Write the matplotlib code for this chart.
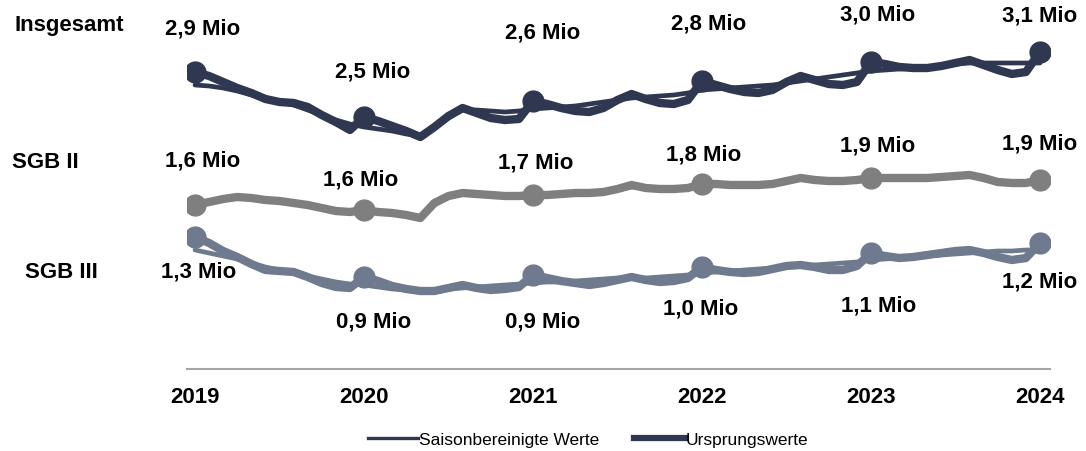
import matplotlib
matplotlib.use("Agg")
import matplotlib.pyplot as plt
from matplotlib.lines import Line2D
import numpy as np

plt.rcParams['font.family'] = ['Liberation Sans', 'DejaVu Sans']

# monthly values Jan 2019 .. Jan 2024, in Mio
months = np.arange(61)
years = [2019, 2020, 2021, 2022, 2023, 2024]

gesamt_orig = [2.92, 2.88, 2.82, 2.76, 2.71, 2.65, 2.62, 2.61, 2.57, 2.49, 2.42, 2.34, 2.47,
               2.43, 2.38, 2.33, 2.27, 2.37, 2.48, 2.56, 2.51, 2.46, 2.44, 2.45, 2.63,
               2.60, 2.56, 2.53, 2.52, 2.56, 2.64, 2.70, 2.65, 2.61, 2.60, 2.64, 2.83,
               2.79, 2.75, 2.72, 2.71, 2.74, 2.82, 2.88, 2.84, 2.80, 2.79, 2.82, 3.02,
               3.00, 2.97, 2.96, 2.96, 2.98, 3.01, 3.04, 2.99, 2.94, 2.90, 2.92, 3.12]
gesamt_sa = [2.79, 2.78, 2.76, 2.73, 2.69, 2.65, 2.62, 2.59, 2.54, 2.49, 2.44, 2.40, 2.37,
             2.35, 2.33, 2.30, 2.28, 2.36, 2.46, 2.54, 2.54, 2.53, 2.52, 2.53, 2.55,
             2.56, 2.57, 2.58, 2.60, 2.62, 2.64, 2.66, 2.67, 2.68, 2.69, 2.71, 2.74,
             2.75, 2.76, 2.77, 2.78, 2.79, 2.81, 2.83, 2.85, 2.87, 2.89, 2.91, 2.93,
             2.94, 2.95, 2.96, 2.97, 2.98, 3.00, 3.01, 3.01, 3.01, 3.01, 3.01, 3.01]

sgb2_orig = [1.59, 1.62, 1.65, 1.67, 1.66, 1.64, 1.63, 1.61, 1.59, 1.56, 1.53, 1.52, 1.54,
             1.52, 1.51, 1.49, 1.46, 1.61, 1.68, 1.71, 1.70, 1.69, 1.68, 1.68, 1.69,
             1.69, 1.70, 1.71, 1.71, 1.72, 1.75, 1.79, 1.76, 1.75, 1.75, 1.76, 1.80,
             1.80, 1.79, 1.79, 1.79, 1.80, 1.83, 1.86, 1.84, 1.83, 1.83, 1.84, 1.86,
             1.86, 1.86, 1.86, 1.86, 1.87, 1.88, 1.89, 1.86, 1.82, 1.81, 1.81, 1.84]
sgb2_sa = [1.60, 1.62, 1.64, 1.66, 1.66, 1.64, 1.63, 1.61, 1.59, 1.57, 1.54, 1.53, 1.53,
           1.52, 1.51, 1.49, 1.47, 1.60, 1.67, 1.70, 1.70, 1.69, 1.69, 1.68, 1.69,
           1.69, 1.70, 1.71, 1.71, 1.72, 1.74, 1.77, 1.76, 1.76, 1.76, 1.77, 1.79,
           1.80, 1.80, 1.80, 1.80, 1.81, 1.83, 1.85, 1.84, 1.84, 1.84, 1.84, 1.85,
           1.86, 1.86, 1.86, 1.86, 1.87, 1.88, 1.88, 1.86, 1.83, 1.82, 1.82, 1.83]

sgb3_orig = [1.27, 1.21, 1.13, 1.07, 1.00, 0.94, 0.93, 0.92, 0.87, 0.81, 0.77, 0.76, 0.87,
             0.83, 0.78, 0.75, 0.73, 0.73, 0.76, 0.79, 0.76, 0.74, 0.75, 0.77, 0.89,
             0.86, 0.83, 0.81, 0.79, 0.81, 0.84, 0.87, 0.84, 0.82, 0.83, 0.86, 0.97,
             0.94, 0.92, 0.91, 0.92, 0.95, 0.98, 0.99, 0.97, 0.94, 0.94, 0.98, 1.11,
             1.08, 1.06, 1.07, 1.09, 1.11, 1.13, 1.14, 1.11, 1.07, 1.04, 1.06, 1.21]
sgb3_sa = [1.14, 1.11, 1.08, 1.05, 1.01, 0.97, 0.94, 0.91, 0.88, 0.85, 0.82, 0.80, 0.79,
           0.77, 0.75, 0.74, 0.73, 0.74, 0.75, 0.76, 0.77, 0.78, 0.79, 0.80, 0.81,
           0.82, 0.82, 0.83, 0.84, 0.85, 0.86, 0.86, 0.86, 0.87, 0.88, 0.89, 0.91,
           0.92, 0.93, 0.94, 0.95, 0.96, 0.97, 0.98, 0.99, 1.00, 1.01, 1.02, 1.04,
           1.05, 1.06, 1.07, 1.08, 1.09, 1.10, 1.11, 1.12, 1.13, 1.13, 1.14, 1.14]

gesamt_labels = ['2,9 Mio', '2,5 Mio', '2,6 Mio', '2,8 Mio', '3,0 Mio', '3,1 Mio']
sgb2_labels = ['1,6 Mio', '1,6 Mio', '1,7 Mio', '1,8 Mio', '1,9 Mio', '1,9 Mio']
sgb3_labels = ['1,3 Mio', '0,9 Mio', '0,9 Mio', '1,0 Mio', '1,1 Mio', '1,2 Mio']

# label offsets from the marker, in pixels (x right, y up)
gesamt_off = [(8, 43), (9, 45), (10, 68), (7, 57), (7, 47), (0, 36)]
sgb2_off = [(8, 44), (-3, 30), (3, 32), (2, 29), (7, 32), (0, 36)]
sgb3_off = [(4, -35), (10, -45), (10, -47), (-1, -42), (8, -53), (0, -39)]

c_gesamt = '#2f3850'
c_sgb2 = '#7f7f7f'
c_sgb3 = '#707a8f'

W, H = 1086, 451
fig = plt.figure(figsize=(W / 100, H / 100), dpi=100)
ax = fig.add_axes([187 / W, 1 - 369 / H, (1050 - 187) / W, (369 - 10) / H])

x = 2019 + months / 12.0
yearly = months[::12]

groups = [
    (gesamt_orig, gesamt_sa, c_gesamt, gesamt_labels, gesamt_off),
    (sgb2_orig, sgb2_sa, c_sgb2, sgb2_labels, sgb2_off),
    (sgb3_orig, sgb3_sa, c_sgb3, sgb3_labels, sgb3_off),
]
for orig, sa, col, labs, offs in groups:
    orig = np.array(orig)
    ax.plot(x, sa, color=col, lw=3.4, solid_capstyle='round', solid_joinstyle='round', zorder=2)
    ax.plot(x, orig, color=col, lw=6, solid_capstyle='round', solid_joinstyle='round', zorder=3)
    ax.plot(x[yearly], orig[yearly], 'o', color=col, ms=15, zorder=4)
    for i, (lab, (dx, dy)) in enumerate(zip(labs, offs)):
        ax.annotate(lab, (x[yearly][i], orig[yearly][i]), xytext=(dx * 0.72, dy * 0.72),
                    textcoords='offset points', ha='center', va='center',
                    fontsize=16, fontweight='bold', color='black', zorder=5)

ax.set_xlim(2019 - 8 / 169, 2024 + 10 / 169)
ax.set_ylim(-0.05, 3.54)
ax.set_xticks(years)
ax.set_xticklabels([str(y) for y in years], fontsize=16, fontweight='bold')
ax.tick_params(axis='x', length=0, pad=13)
ax.set_yticks([])
for s in ['top', 'right', 'left']:
    ax.spines[s].set_visible(False)
ax.spines['bottom'].set_color('#a6a6a6')
ax.spines['bottom'].set_linewidth(1.5)

for txt, px, py in [('Insgesamt', 14, 25), ('SGB II', 12, 163), ('SGB III', 25, 272)]:
    fig.text(px / W, 1 - py / H, txt, ha='left', va='center', fontsize=16, fontweight='bold')

handles = [Line2D([], [], color=c_gesamt, lw=2.4),
           Line2D([], [], color=c_gesamt, lw=4.5)]
fig.legend(handles, ['Saisonbereinigte Werte', 'Ursprungswerte'], loc='center',
           bbox_to_anchor=(588 / W, 1 - 440 / H), ncol=2, frameon=False, fontsize=12.5,
           handlelength=2.9, handletextpad=0.05, columnspacing=2.0)

fig.savefig('out.png', dpi=100)
